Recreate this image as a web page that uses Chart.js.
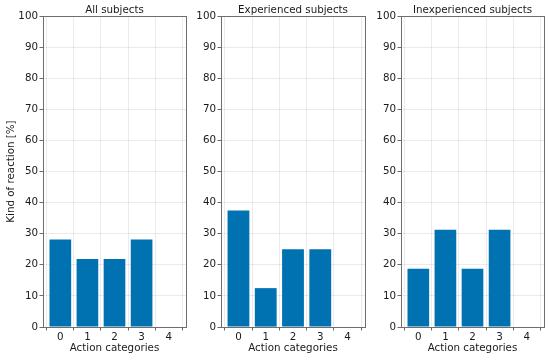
<!DOCTYPE html>
<html>
<head>
<meta charset="utf-8">
<script src="https://cdn.jsdelivr.net/npm/chart.js@4.4.1/dist/chart.umd.min.js"></script>
<style>
body { margin: 0; background: #fff; }
#wrap { position: relative; width: 550px; height: 359px; }
.panel { position: absolute; top: 0; height: 359px; }
</style>
</head>
<body>
<div id="wrap">
  <div class="panel" style="left:0;width:190px"><canvas id="c0"></canvas></div>
  <div class="panel" style="left:190px;width:180px"><canvas id="c1"></canvas></div>
  <div class="panel" style="left:370px;width:180px"><canvas id="c2"></canvas></div>
</div>
<script>
// Dados
const categories = [0, 1, 2, 3, 4];
const allSubjects = [28.1, 21.9, 21.9, 28.1, 0];
const experienced = [37.5, 12.5, 25, 25, 0];
const inexperienced = [18.75, 31.25, 18.75, 31.25, 0];
const panelTitles = ['All subjects', 'Experienced subjects', 'Inexperienced subjects'];
const yTicks = [0, 10, 20, 30, 40, 50, 60, 70, 80, 90, 100];
const xTitle = 'Action categories';
const yTitle = 'Kind of reaction [%]';

Chart.defaults.font.family = 'DejaVu Sans';
Chart.defaults.font.size = 10.3;
Chart.defaults.color = '#1a1a1a';

// Moldura em volta da área do gráfico + título centrado na área
const framePlugin = {
    id: 'frame',
    afterDraw(chart, args, opts) {
        const a = chart.chartArea;
        const ctx = chart.ctx;
        ctx.save();
        ctx.strokeStyle = '#6e6e6e';
        ctx.lineWidth = 1;
        ctx.strokeRect(Math.round(a.left) + 0.5, Math.round(a.top) + 0.5,
            Math.round(a.right - a.left), Math.round(a.bottom - a.top));
        ctx.fillStyle = '#1a1a1a';
        ctx.font = '10.3px "DejaVu Sans"';
        ctx.textAlign = 'center';
        ctx.textBaseline = 'alphabetic';
        ctx.fillText(opts.text, (a.left + a.right) / 2, a.top - 3.5);
        ctx.restore();
    }
};

const gridOpts = {
    color: 'rgba(0,0,0,0.10)',
    lineWidth: 0.8,
    borderDash: [2, 2],
    tickColor: '#444',
    tickLength: 3.5,
    tickWidth: 0.8,
    tickBorderDash: []
};

function makePanel(id, values, title, yWidth, rightPad, showYTitle) {
    const ctx = document.getElementById(id).getContext('2d');
    return new Chart(ctx, {
        type: 'bar',
        data: {
            datasets: [{
                data: categories.map((c, i) => ({ x: c, y: values[i] })),
                backgroundColor: '#0072b2',
                borderWidth: 0,
                barPercentage: 0.8,
                categoryPercentage: 1
            }]
        },
        options: {
            responsive: true,
            maintainAspectRatio: false,
            animation: false,
            devicePixelRatio: 1,
            layout: { padding: { top: 16, right: rightPad, bottom: 0, left: 0 } },
            plugins: {
                legend: { display: false },
                tooltip: { enabled: false },
                title: { display: false },
                frame: { text: title }
            },
            scales: {
                x: {
                    type: 'linear',
                    min: -0.64,
                    max: 4.64,
                    offset: false,
                    afterBuildTicks: axis => { axis.ticks = categories.map(v => ({ value: v })); },
                    afterFit: scale => { scale.height = 32; },
                    grid: gridOpts,
                    border: { display: false },
                    ticks: { padding: 1, autoSkip: false, maxRotation: 0 },
                    title: { display: true, text: xTitle, padding: { top: 0, bottom: 4 } }
                },
                y: {
                    min: 0,
                    max: 100,
                    afterBuildTicks: axis => { axis.ticks = yTicks.map(v => ({ value: v })); },
                    afterFit: scale => { scale.width = yWidth; },
                    grid: gridOpts,
                    border: { display: false },
                    ticks: { padding: 1.5 },
                    title: { display: showYTitle, text: yTitle, padding: { top: 5, bottom: 0 } }
                }
            }
        },
        plugins: [framePlugin]
    });
}

makePanel('c0', allSubjects, panelTitles[0], 43, 4, true);
makePanel('c1', experienced, panelTitles[1], 31, 5, false);
makePanel('c2', inexperienced, panelTitles[2], 31, 6, false);
</script>
</body>
</html>
